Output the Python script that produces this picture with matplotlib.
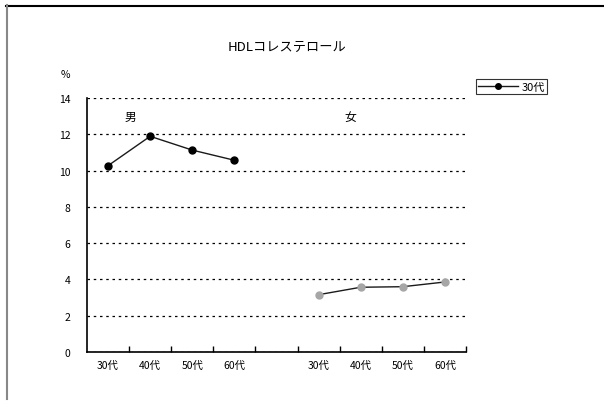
import matplotlib.pyplot as plt
from matplotlib.lines import Line2D
import numpy as np

plt.rcParams['font.family'] = ['Noto Sans CJK JP', 'DejaVu Sans']

# data
categories = ['30代', '40代', '50代', '60代', '', '30代', '40代', '50代', '60代']
male_slots = [0, 1, 2, 3]
male_values = [10.27, 11.89, 11.13, 10.57]
female_slots = [5, 6, 7, 8]
female_values = [3.16, 3.57, 3.60, 3.86]
legend_label = '30代'

fig = plt.figure(figsize=(6.04, 4.06), dpi=100)
ax = fig.add_axes([0.144, 0.1305, 0.6275, 0.6256])

ax.plot(male_slots, male_values, color='#1a1a1a', lw=1, marker='o', ms=5,
        mfc='black', mec='black', label=legend_label)
ax.plot(female_slots, female_values, color='#1a1a1a', lw=1, marker='o', ms=5,
        mfc='#a6a6a6', mec='#a6a6a6')

ax.set_xlim(-0.5, 8.5)
ax.set_ylim(0, 14)
ax.set_yticks(np.arange(0, 15, 2))
ax.yaxis.grid(True, linestyle=(0, (2, 3)), color='black', lw=0.9)
ax.set_axisbelow(True)

ax.set_xticks(np.arange(0.5, 9, 1))
ax.set_xticklabels([])
ax.set_xticks(np.arange(0, 9), minor=True)
ax.set_xticklabels(categories, minor=True)
ax.tick_params(axis='x', which='major', direction='in', length=4, width=1)
ax.tick_params(axis='x', which='minor', length=0, pad=6, labelsize=7.5)
ax.tick_params(axis='y', length=0, pad=12, labelsize=7.5)

for s in ['top', 'right']:
    ax.spines[s].set_visible(False)
for s in ['left', 'bottom']:
    ax.spines[s].set_linewidth(1.2)

ax.text(0.52, 13.0, '男', ha='center', va='center', fontsize=8.5)
ax.text(5.75, 13.0, '女', ha='center', va='center', fontsize=8.5)

fig.text(0.475, 0.884, 'HDLコレステロール', ha='center', va='center', fontsize=9.5)
fig.text(0.109, 0.815, '%', ha='center', va='center', fontsize=7.5)

leg = ax.legend(loc='upper left', bbox_to_anchor=(1.026, 1.073), fontsize=8,
                frameon=True, fancybox=False, edgecolor='black', handlelength=3.6,
                borderpad=0.2, handletextpad=0.3, markerscale=0.8, borderaxespad=0)
leg.get_frame().set_linewidth(0.8)

# outer frame lines
fig.add_artist(Line2D([6/604, 1], [1-6.5/406]*2, color='black', lw=1.5))
fig.add_artist(Line2D([6.5/604]*2, [1-6/406, 1-400/406], color='#888888', lw=1.5))

fig.savefig('out.png', dpi=100)
